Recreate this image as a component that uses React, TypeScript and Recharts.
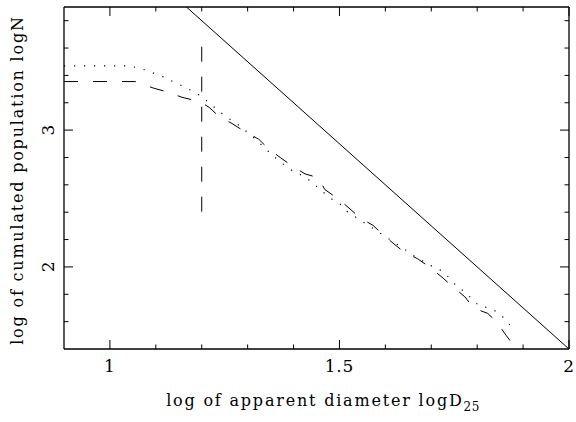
import { LineChart, Line, XAxis, YAxis } from 'recharts';

// axis ticks
const xTicks = [1, 1.1, 1.2, 1.3, 1.4, 1.5, 1.6, 1.7, 1.8, 1.9, 2];
const yTicks = [1.6, 1.8, 2, 2.2, 2.4, 2.6, 2.8, 3, 3.2, 3.4, 3.6, 3.8];
const xMajor = [1, 1.5, 2];
const yMajor = [2, 3];

// dotted sample
const dottedX = [0.9, 1.04, 1.06, 1.08, 1.1, 1.12, 1.14, 1.16, 1.18, 1.2, 1.236, 1.255, 1.273, 1.309, 1.356, 1.392, 1.414, 1.432, 1.479, 1.501, 1.516, 1.555, 1.61, 1.646, 1.664, 1.704, 1.724, 1.74, 1.755, 1.773, 1.791, 1.805, 1.827, 1.847, 1.863, 1.877];
const dottedY = [3.47, 3.47, 3.456, 3.437, 3.41, 3.385, 3.35, 3.32, 3.285, 3.245, 3.142, 3.093, 3.057, 2.958, 2.81, 2.713, 2.676, 2.64, 2.505, 2.461, 2.407, 2.321, 2.2, 2.12, 2.076, 2.0, 1.97, 1.917, 1.86, 1.818, 1.757, 1.713, 1.7, 1.664, 1.61, 1.549];

// dashed sample
const dashedX = [0.9, 1.055, 1.095, 1.124, 1.157, 1.186, 1.2, 1.216, 1.236, 1.268, 1.291, 1.324, 1.345, 1.371, 1.396, 1.425, 1.454, 1.468, 1.497, 1.523, 1.545, 1.573, 1.595, 1.621, 1.639, 1.67, 1.7, 1.726, 1.747, 1.773, 1.792, 1.823, 1.842, 1.863, 1.872, 1.886];
const dashedY = [3.355, 3.355, 3.307, 3.28, 3.24, 3.216, 3.2, 3.167, 3.105, 3.044, 2.995, 2.934, 2.865, 2.8, 2.74, 2.68, 2.652, 2.566, 2.498, 2.424, 2.358, 2.304, 2.235, 2.162, 2.113, 2.06, 1.99, 1.917, 1.855, 1.782, 1.7, 1.66, 1.6, 1.5, 1.46, 1.445];

// power-law reference line
const fitX = [1.1667, 2];
const fitY = [3.9, 1.4];

// diameter limit marker
const limitX = [1.2, 1.2];
const limitY = [3.61, 2.4];

const zip = (xs: number[], ys: number[]) => xs.map((x, i) => ({ x, y: ys[i] }));

const FONT = 'DejaVu Serif';
const INK = '#000';

const near = (a: number, list: number[]) => list.some((b) => Math.abs(a - b) < 1e-6);

const BottomTick = (props: any) => {
  const { x, y, payload } = props;
  const major = near(payload.value, xMajor);
  return (
    <g>
      <line x1={x} x2={x} y1={y} y2={y - (major ? 9 : 4.5)} stroke={INK} />
      {major && (
        <text x={x} y={y + 23} textAnchor="middle" fontFamily={FONT} fontSize={17} letterSpacing={0.8} fill={INK}>
          {String(payload.value)}
        </text>
      )}
    </g>
  );
};

const TopTick = (props: any) => {
  const { x, y, payload } = props;
  const major = near(payload.value, xMajor);
  return <line x1={x} x2={x} y1={y} y2={y + (major ? 9 : 4.5)} stroke={INK} />;
};

const LeftTick = (props: any) => {
  const { x, y, payload } = props;
  const major = near(payload.value, yMajor);
  return (
    <g>
      <line x1={x} x2={x + (major ? 9 : 4.5)} y1={y} y2={y} stroke={INK} />
      {major && (
        <text
          x={x - 10}
          y={y}
          transform={`rotate(-90, ${x - 10}, ${y})`}
          textAnchor="middle"
          fontFamily={FONT}
          fontSize={17}
          fill={INK}
        >
          {String(payload.value)}
        </text>
      )}
    </g>
  );
};

const RightTick = (props: any) => {
  const { x, y, payload } = props;
  const major = near(payload.value, yMajor);
  return <line x1={x} x2={x - (major ? 9 : 4.5)} y1={y} y2={y} stroke={INK} />;
};

export default function App() {
  return (
    <div style={{ position: 'absolute', left: 0, top: 0, width: 576, height: 422, background: '#fff' }}>
      <LineChart width={576} height={422} margin={{ top: 6, right: 6, bottom: 72, left: 63 }}>
        <XAxis
          xAxisId="b"
          type="number"
          dataKey="x"
          domain={[0.9, 2]}
          allowDataOverflow
          ticks={xTicks}
          interval={0}
          height={1}
          tickSize={0}
          tickMargin={0}
          tickLine={false}
          tick={BottomTick}
          axisLine={{ stroke: INK, strokeWidth: 1.3 }}
          label={{
            content: () => (
              <text x={323} y={406} textAnchor="middle" fontFamily={FONT} fontSize={16} letterSpacing={1.8} fill={INK}>
                log of apparent diameter logD
                <tspan dy={5} fontSize={12} letterSpacing={0.5}>25</tspan>
              </text>
            ),
          }}
        />
        <XAxis
          xAxisId="t"
          orientation="top"
          type="number"
          dataKey="x"
          domain={[0.9, 2]}
          allowDataOverflow
          ticks={xTicks}
          interval={0}
          height={1}
          tickSize={0}
          tickMargin={0}
          tickLine={false}
          tick={TopTick}
          axisLine={{ stroke: INK, strokeWidth: 1.3 }}
        />
        <YAxis
          yAxisId="l"
          type="number"
          domain={[1.4, 3.9]}
          allowDataOverflow
          ticks={yTicks}
          interval={0}
          width={1}
          tickSize={0}
          tickMargin={0}
          tickLine={false}
          tick={LeftTick}
          axisLine={{ stroke: INK, strokeWidth: 1.3 }}
          label={{
            content: () => (
              <text
                x={23}
                y={180}
                transform="rotate(-90, 23, 180)"
                textAnchor="middle"
                fontFamily={FONT}
                fontSize={16}
                letterSpacing={1.8}
                fill={INK}
              >
                log of cumulated population logN
              </text>
            ),
          }}
        />
        <YAxis
          yAxisId="r"
          orientation="right"
          type="number"
          domain={[1.4, 3.9]}
          allowDataOverflow
          ticks={yTicks}
          interval={0}
          width={1}
          tickSize={0}
          tickMargin={0}
          tickLine={false}
          tick={RightTick}
          axisLine={{ stroke: INK, strokeWidth: 1.3 }}
        />
        <Line
          xAxisId="b"
          yAxisId="l"
          data={zip(fitX, fitY)}
          dataKey="y"
          type="linear"
          stroke={INK}
          strokeWidth={1}
          dot={false}
          isAnimationActive={false}
        />
        <Line
          xAxisId="t"
          yAxisId="r"
          data={zip(limitX, limitY)}
          dataKey="y"
          type="linear"
          stroke={INK}
          strokeWidth={1}
          strokeDasharray="15 15"
          dot={false}
          isAnimationActive={false}
        />
        <Line
          xAxisId="b"
          yAxisId="l"
          data={zip(dottedX, dottedY)}
          dataKey="y"
          type="linear"
          stroke={INK}
          strokeWidth={1.2}
          strokeDasharray="1.2 8.8"
          dot={false}
          isAnimationActive={false}
        />
        <Line
          xAxisId="b"
          yAxisId="l"
          data={zip(dashedX, dashedY)}
          dataKey="y"
          type="linear"
          stroke={INK}
          strokeWidth={1}
          strokeDasharray="14 15"
          dot={false}
          isAnimationActive={false}
        />
      </LineChart>
    </div>
  );
}
